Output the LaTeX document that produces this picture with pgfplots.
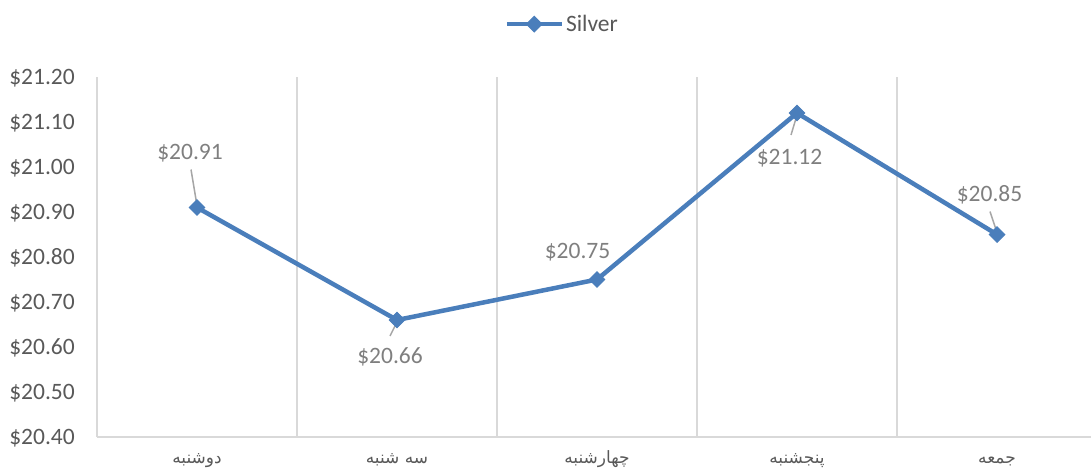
\documentclass[border=0pt]{standalone}
\usepackage{fontspec}
\setmainfont{Carlito}
\newfontfamily\arabicfont[Script=Arabic]{DejaVu Sans}
\TeXXeTstate=1
\usepackage{pgfplots}
\pgfplotsset{compat=1.18}
\definecolor{ser}{HTML}{4A7EBB}
\definecolor{grd}{HTML}{D9D9D9}
\definecolor{tck}{HTML}{595959}
\definecolor{lbl}{HTML}{7F7F7F}
\definecolor{ldr}{HTML}{A6A6A6}
\pgfplotstableread{
x y
0 20.91
1 20.66
2 20.75
3 21.12
4 20.85
}\silver
\begin{document}
\begin{tikzpicture}
\path[use as bounding box] (0,0) rectangle (1091bp,475bp);
\begin{axis}[
  at={(97bp,38bp)}, anchor=south west,
  width=994bp, height=360bp, scale only axis,
  xmin=-0.5, xmax=4.47, ymin=20.4, ymax=21.2,
  axis lines*=left,
  axis line style={grd, line width=1.5bp},
  xtick={0,1,2,3,4},
  xticklabels={{\arabicfont\beginR دوشنبه\endR},{\arabicfont\beginR سه شنبه\endR},{\arabicfont\beginR چهارشنبه\endR},{\arabicfont\beginR پنجشنبه\endR},{\arabicfont\beginR جمعه\endR}},
  minor xtick={0.5,1.5,2.5,3.5},
  xminorgrids,
  minor grid style={grd, line width=1.5bp},
  major tick length=0pt, minor tick length=0pt,
  ytick={20.4,20.5,20.6,20.7,20.8,20.9,21.0,21.1,21.2},
  yticklabel={\$\pgfmathprintnumber[fixed,fixed zerofill,precision=2]{\tick}},
  /pgf/number format/assume math mode=true,
  yticklabel style={anchor=base east, inner sep=0pt, xshift=-22bp, yshift=-7.5bp, text=tck, font=\fontsize{23.5bp}{28bp}\selectfont},
  xticklabel style={anchor=base, inner sep=0pt, yshift=-26bp, text=tck, font=\fontsize{17bp}{20bp}\selectfont},
  clip=false,
  legend style={at={(0.468,1.147)}, anchor=center, draw=none, fill=none, text=tck, font=\fontsize{23.5bp}{28bp}\selectfont, inner sep=0pt},
  legend image code/.code={\draw[mark repeat=2,mark phase=2] plot coordinates {(0bp,0bp) (27.5bp,0bp) (55bp,0bp)};},
]
\addplot[ser, line width=4.5bp, line join=round, mark=square*, mark size=5.5bp, mark options={rotate=45, line width=1bp, fill=ser, line join=miter}] table[x=x,y=y] {\silver};
\addlegendentry{Silver}
% leader lines
\draw[ldr, line width=1.5bp] (axis cs:0,20.91) ++(-6bp,38bp) -- ++(6bp,-36bp);
\draw[ldr, line width=1.5bp] (axis cs:1,20.66) ++(-7bp,-16bp) -- ++(7bp,14bp);
\draw[ldr, line width=1.5bp] (axis cs:3,21.12) ++(-6bp,-22bp) -- ++(6bp,20bp);
\draw[ldr, line width=1.5bp] (axis cs:4,20.85) ++(-7bp,23bp) -- ++(7bp,-21bp);
% data labels
\tikzset{dl/.style={anchor=base, inner sep=0pt, text=lbl, font=\fontsize{23.5bp}{28bp}\selectfont}}
\node[dl] at ([shift={(-7bp,48bp)}]axis cs:0,20.91) {\$20.91};
\node[dl] at ([shift={(-7bp,-43bp)}]axis cs:1,20.66) {\$20.66};
\node[dl] at ([shift={(-19.5bp,21bp)}]axis cs:2,20.75) {\$20.75};
\node[dl] at ([shift={(-7.5bp,-51bp)}]axis cs:3,21.12) {\$21.12};
\node[dl] at ([shift={(-7.5bp,33bp)}]axis cs:4,20.85) {\$20.85};
\end{axis}
\end{tikzpicture}
\end{document}
